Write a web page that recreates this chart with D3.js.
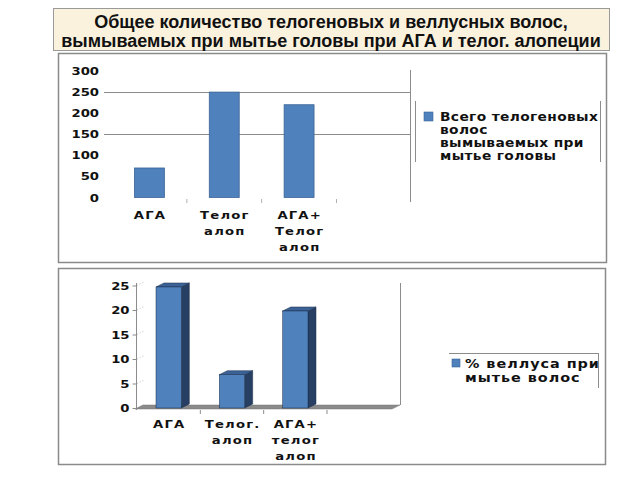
<!DOCTYPE html>
<meta charset="UTF-8">
<html>
<head>
<script src="https://d3js.org/d3.v7.min.js"></script>
<style>
  body { margin: 0; background: #fff; }
  .lbl { font-family: "DejaVu Sans", sans-serif; font-weight: bold; fill: #111; }
</style>
</head>
<body>
<svg id="chart" width="640" height="480"></svg>
<script>
// data
var titleLines = ["Общее количество телогеновых и веллусных волос,",
                  "вымываемых при мытье головы при АГА и телог. алопеции"];

var topCats = ["АГА", "Телог алоп", "АГА+ Телог алоп"];
var topValues = [70, 250, 220];
var topTicks = [0, 50, 100, 150, 200, 250, 300];
var topGrid = [150, 250];
var topLegend = ["Всего телогеновых", "волос", "вымываемых при", "мытье головы"];

var botCats = ["АГА", "Телог. алоп", "АГА+ телог алоп"];
var botValues = [24.7, 6.8, 19.8];
var botTicks = [0, 5, 10, 15, 20, 25];
var botLegend = ["% веллуса при", "мытье волос"];

var svg = d3.select("#chart");
var SX = 1.2;   // text in the picture is stretched sideways
var lineCol = "#8c8c8c";

function label(g, x, y, str, anchor, size, ls) {
  return g.append("text").attr("class", "lbl")
    .attr("transform", "translate(" + x + "," + y + ") scale(" + SX + ",1)")
    .attr("text-anchor", anchor)
    .style("font-size", size + "px")
    .style("letter-spacing", (ls || 0) + "px")
    .text(str);
}

// title box
svg.append("rect").attr("x", 53.5).attr("y", 8.5).attr("width", 556).attr("height", 42)
  .attr("fill", "#fbf2de").attr("stroke", "#9a9a9a");
titleLines.forEach(function(t, i) {
  svg.append("text").attr("x", 331).attr("y", 28 + i * 19)
    .attr("text-anchor", "middle")
    .style("font", "bold 18px 'Liberation Sans', Arial, sans-serif")
    .attr("fill", "#111").text(t);
});

// panels
svg.append("rect").attr("x", 58.5).attr("y", 53.5).attr("width", 548).attr("height", 209)
  .attr("fill", "#fff").attr("stroke", "#8a8a8a").attr("stroke-width", 1.5);
svg.append("rect").attr("x", 58.5).attr("y", 268.5).attr("width", 547).attr("height", 196)
  .attr("fill", "#fff").attr("stroke", "#8a8a8a").attr("stroke-width", 1.5);

// ---------- top chart ----------
var topG = svg.append("g");
var yTop = d3.scaleLinear().domain([0, 300]).range([197.5, 71]);
var xTop = d3.scaleBand().domain(topCats).range([112, 336.5]).paddingInner(0.6).paddingOuter(0.3);

topG.selectAll("line.grid").data(topGrid).enter().append("line")
  .attr("x1", 104).attr("x2", 410)
  .attr("y1", function(d) { return Math.round(yTop(d)) + 0.5; })
  .attr("y2", function(d) { return Math.round(yTop(d)) + 0.5; })
  .attr("stroke", lineCol);
topG.append("line").attr("x1", 410.5).attr("x2", 410.5).attr("y1", 70).attr("y2", 202).attr("stroke", lineCol);

var yAxTop = topG.append("g").attr("transform", "translate(104,0)")
  .call(d3.axisLeft(yTop).tickValues(topTicks).tickSize(0).tickPadding(0));
yAxTop.select(".domain").remove();
yAxTop.selectAll("text").attr("class", "lbl").attr("x", -5 / SX).attr("transform", "scale(" + SX + ",1)")
  .style("font-size", "11px");

var stepT = xTop.step(), gapT = (stepT - xTop.bandwidth()) / 2;
topG.selectAll("line.tk").data(topCats).enter().append("line")
  .attr("x1", function(d) { return xTop(d) + xTop.bandwidth() + gapT; })
  .attr("x2", function(d) { return xTop(d) + xTop.bandwidth() + gapT; })
  .attr("y1", 199).attr("y2", 203).attr("stroke", "#b0b0b0");

topG.selectAll("rect.bar").data(topValues).enter().append("rect")
  .attr("x", function(d, i) { return xTop(topCats[i]); })
  .attr("y", function(d) { return yTop(d); })
  .attr("width", xTop.bandwidth())
  .attr("height", function(d) { return yTop(0) - yTop(d); })
  .attr("fill", "#4f81bd").attr("stroke", "#3a6496").attr("stroke-width", 0.8);

topCats.forEach(function(c) {
  c.split(" ").forEach(function(w, j) {
    label(topG, xTop(c) + xTop.bandwidth() / 2 + 0.6, 219 + j * 16, w, "middle", 11, 1);
  });
});

// top legend
topG.append("line").attr("x1", 415.5).attr("x2", 415.5).attr("y1", 101).attr("y2", 162).attr("stroke", lineCol);
topG.append("line").attr("x1", 600.5).attr("x2", 600.5).attr("y1", 101).attr("y2", 162).attr("stroke", lineCol);
topG.append("rect").attr("x", 424).attr("y", 112).attr("width", 9).attr("height", 9)
  .attr("fill", "#4f81bd").attr("stroke", "#3a6496").attr("stroke-width", 0.6);
topLegend.forEach(function(t, i) {
  label(topG, 440, 121 + i * 13, t, "start", 11.5, 0.3);
});

// ---------- bottom chart ----------
var botG = svg.append("g");
var yBot = d3.scaleLinear().domain([0, 25]).range([408, 285.5]);
var xBot = d3.scaleBand().domain(botCats).range([137, 327]).paddingInner(0.6).paddingOuter(0.3);
var DX = 8, DY = -4;

// left wall tick remnants
botG.selectAll("line.wall").data(botTicks.slice(1)).enter().append("line")
  .attr("x1", 137).attr("x2", 137 + DX)
  .attr("y1", function(d) { return yBot(d); })
  .attr("y2", function(d) { return yBot(d) + DY; })
  .attr("stroke", "#bdbdbd").attr("stroke-dasharray", "1,2");

// floor
botG.append("polygon")
  .attr("points", [[135, 409], [135 + DX, 409 + DY], [400, 409 + DY], [400 - DX, 409]].join(" "))
  .attr("fill", "#8a8a8a").attr("stroke", "#777").attr("stroke-width", 0.5);
botG.append("line").attr("x1", 400.5).attr("x2", 400.5).attr("y1", 283).attr("y2", 405).attr("stroke", lineCol);

var yAxBot = botG.append("g").attr("transform", "translate(136.5,0)")
  .call(d3.axisLeft(yBot).tickValues(botTicks).tickSize(4).tickPadding(0));
yAxBot.select(".domain").attr("stroke", lineCol).attr("d", "M0,283V410");
yAxBot.selectAll(".tick line").attr("stroke", lineCol);
yAxBot.selectAll("text").attr("class", "lbl").attr("x", -7 / SX).attr("transform", "scale(" + SX + ",1)")
  .style("font-size", "11px");

var stepB = xBot.step(), gapB = (stepB - xBot.bandwidth()) / 2;
botG.selectAll("line.tk").data(botCats).enter().append("line")
  .attr("x1", function(d) { return xBot(d) + xBot.bandwidth() + gapB; })
  .attr("x2", function(d) { return xBot(d) + xBot.bandwidth() + gapB; })
  .attr("y1", 410).attr("y2", 414).attr("stroke", lineCol);

var bars = botG.selectAll("g.bar").data(botValues).enter().append("g");
bars.append("polygon")   // side
  .attr("points", function(d, i) {
    var x = xBot(botCats[i]) + xBot.bandwidth(), y0 = yBot(0), y1 = yBot(d);
    return [[x, y0], [x, y1], [x + DX, y1 + DY], [x + DX, y0 + DY]].join(" ");
  })
  .attr("fill", "#263f63").attr("stroke", "#1b2d48").attr("stroke-width", 0.5);
bars.append("polygon")   // top
  .attr("points", function(d, i) {
    var x = xBot(botCats[i]), w = xBot.bandwidth(), y1 = yBot(d);
    return [[x, y1], [x + DX, y1 + DY], [x + w + DX, y1 + DY], [x + w, y1]].join(" ");
  })
  .attr("fill", "#3b6296").attr("stroke", "#1b2d48").attr("stroke-width", 0.5);
bars.append("rect")      // front
  .attr("x", function(d, i) { return xBot(botCats[i]); })
  .attr("y", function(d) { return yBot(d); })
  .attr("width", xBot.bandwidth())
  .attr("height", function(d) { return yBot(0) - yBot(d); })
  .attr("fill", "#4f81bd").attr("stroke", "#1b2d48").attr("stroke-width", 0.5);

botCats.forEach(function(c) {
  c.split(" ").forEach(function(w, j) {
    label(botG, xBot(c) + xBot.bandwidth() / 2 + 0.6, 428 + j * 16, w, "middle", 11, 1);
  });
});

// bottom legend
botG.append("line").attr("x1", 449).attr("x2", 598).attr("y1", 353.5).attr("y2", 353.5).attr("stroke", lineCol);
botG.append("line").attr("x1", 598.5).attr("x2", 598.5).attr("y1", 353).attr("y2", 388).attr("stroke", lineCol);
botG.append("rect").attr("x", 452).attr("y", 359).attr("width", 8).attr("height", 8)
  .attr("fill", "#4f81bd").attr("stroke", "#3a6496").attr("stroke-width", 0.6);
botLegend.forEach(function(t, i) {
  label(botG, 465, 368 + i * 14, t, "start", 12, 0.8);
});
</script>
</body>
</html>
